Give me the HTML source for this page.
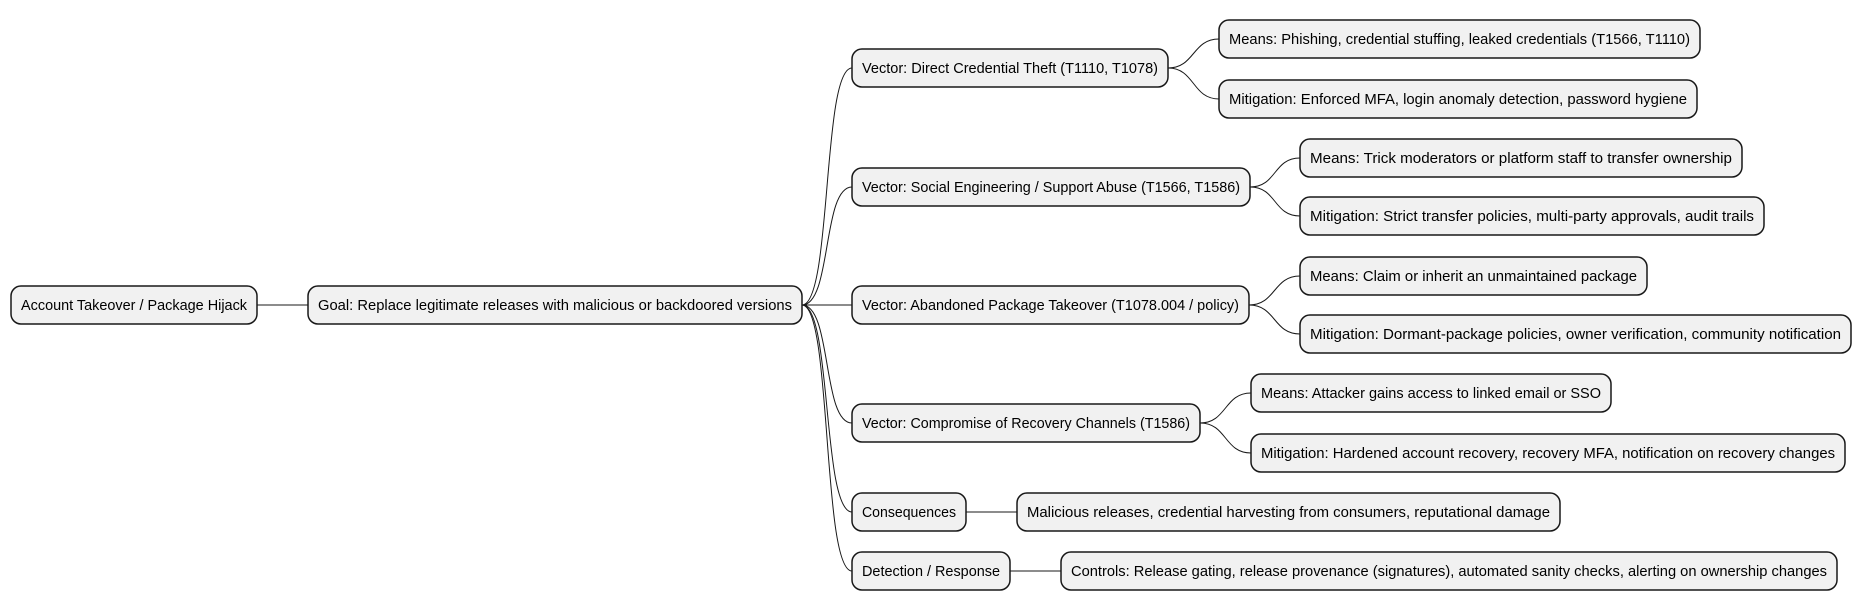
<!DOCTYPE html>
<html><head><meta charset="utf-8"><style>
html,body{margin:0;padding:0;background:#fff;}
svg{display:block;}
text{font-family:"Liberation Sans","DejaVu Sans",sans-serif;font-size:14.5px;fill:#000;}
rect{fill:#f1f1f1;stroke:#181818;stroke-width:1.5;}
path{fill:none;stroke:#181818;stroke-width:1;}
</style></head><body>
<svg width="1863" height="611" viewBox="0 0 1863 611" xmlns="http://www.w3.org/2000/svg">
<!-- connectors -->
<path d="M257 305 L308 305"/>
<path d="M802 305 C832 305,822 68,852 68"/>
<path d="M802 305 C832 305,822 187,852 187"/>
<path d="M802 305 L852 305"/>
<path d="M802 305 C832 305,822 423,852 423"/>
<path d="M802 305 C832 305,822 512,852 512"/>
<path d="M802 305 C832 305,822 571,852 571"/>
<path d="M1168 68 C1195 68,1192 39,1219 39"/>
<path d="M1168 68 C1195 68,1192 99,1219 99"/>
<path d="M1250 187 C1277 187,1273 158,1300 158"/>
<path d="M1250 187 C1277 187,1273 216,1300 216"/>
<path d="M1249 305 C1276 305,1273 276,1300 276"/>
<path d="M1249 305 C1276 305,1273 334,1300 334"/>
<path d="M1200 423 C1227 423,1224 393,1251 393"/>
<path d="M1200 423 C1227 423,1224 453,1251 453"/>
<path d="M966 512 L1017 512"/>
<path d="M1010 571 L1061 571"/>
<!-- nodes -->
<rect x="11" y="286" width="246" height="38" rx="10"/>
<text x="21" y="310" textLength="226" lengthAdjust="spacingAndGlyphs">Account Takeover / Package Hijack</text>
<rect x="308" y="286" width="494" height="38" rx="10"/>
<text x="318" y="310" textLength="474" lengthAdjust="spacingAndGlyphs">Goal: Replace legitimate releases with malicious or backdoored versions</text>

<rect x="852" y="49" width="316" height="38" rx="10"/>
<text x="862" y="73" textLength="296" lengthAdjust="spacingAndGlyphs">Vector: Direct Credential Theft (T1110, T1078)</text>
<rect x="1219" y="20" width="481" height="38" rx="10"/>
<text x="1229" y="44" textLength="461" lengthAdjust="spacingAndGlyphs">Means: Phishing, credential stuffing, leaked credentials (T1566, T1110)</text>
<rect x="1219" y="80" width="478" height="38" rx="10"/>
<text x="1229" y="104" textLength="458" lengthAdjust="spacingAndGlyphs">Mitigation: Enforced MFA, login anomaly detection, password hygiene</text>

<rect x="852" y="168" width="398" height="38" rx="10"/>
<text x="862" y="192" textLength="378" lengthAdjust="spacingAndGlyphs">Vector: Social Engineering / Support Abuse (T1566, T1586)</text>
<rect x="1300" y="139" width="442" height="38" rx="10"/>
<text x="1310" y="163" textLength="422" lengthAdjust="spacingAndGlyphs">Means: Trick moderators or platform staff to transfer ownership</text>
<rect x="1300" y="197" width="464" height="38" rx="10"/>
<text x="1310" y="221" textLength="444" lengthAdjust="spacingAndGlyphs">Mitigation: Strict transfer policies, multi-party approvals, audit trails</text>

<rect x="852" y="286" width="397" height="38" rx="10"/>
<text x="862" y="310" textLength="377" lengthAdjust="spacingAndGlyphs">Vector: Abandoned Package Takeover (T1078.004 / policy)</text>
<rect x="1300" y="257" width="347" height="38" rx="10"/>
<text x="1310" y="281" textLength="327" lengthAdjust="spacingAndGlyphs">Means: Claim or inherit an unmaintained package</text>
<rect x="1300" y="315" width="551" height="38" rx="10"/>
<text x="1310" y="339" textLength="531" lengthAdjust="spacingAndGlyphs">Mitigation: Dormant-package policies, owner verification, community notification</text>

<rect x="852" y="404" width="348" height="38" rx="10"/>
<text x="862" y="428" textLength="328" lengthAdjust="spacingAndGlyphs">Vector: Compromise of Recovery Channels (T1586)</text>
<rect x="1251" y="374" width="360" height="38" rx="10"/>
<text x="1261" y="398" textLength="340" lengthAdjust="spacingAndGlyphs">Means: Attacker gains access to linked email or SSO</text>
<rect x="1251" y="434" width="594" height="38" rx="10"/>
<text x="1261" y="458" textLength="574" lengthAdjust="spacingAndGlyphs">Mitigation: Hardened account recovery, recovery MFA, notification on recovery changes</text>

<rect x="852" y="493" width="114" height="38" rx="10"/>
<text x="862" y="517" textLength="94" lengthAdjust="spacingAndGlyphs">Consequences</text>
<rect x="1017" y="493" width="543" height="38" rx="10"/>
<text x="1027" y="517" textLength="523" lengthAdjust="spacingAndGlyphs">Malicious releases, credential harvesting from consumers, reputational damage</text>

<rect x="852" y="552" width="158" height="38" rx="10"/>
<text x="862" y="576" textLength="138" lengthAdjust="spacingAndGlyphs">Detection / Response</text>
<rect x="1061" y="552" width="776" height="38" rx="10"/>
<text x="1071" y="576" textLength="756" lengthAdjust="spacingAndGlyphs">Controls: Release gating, release provenance (signatures), automated sanity checks, alerting on ownership changes</text>
</svg>
</body></html>
